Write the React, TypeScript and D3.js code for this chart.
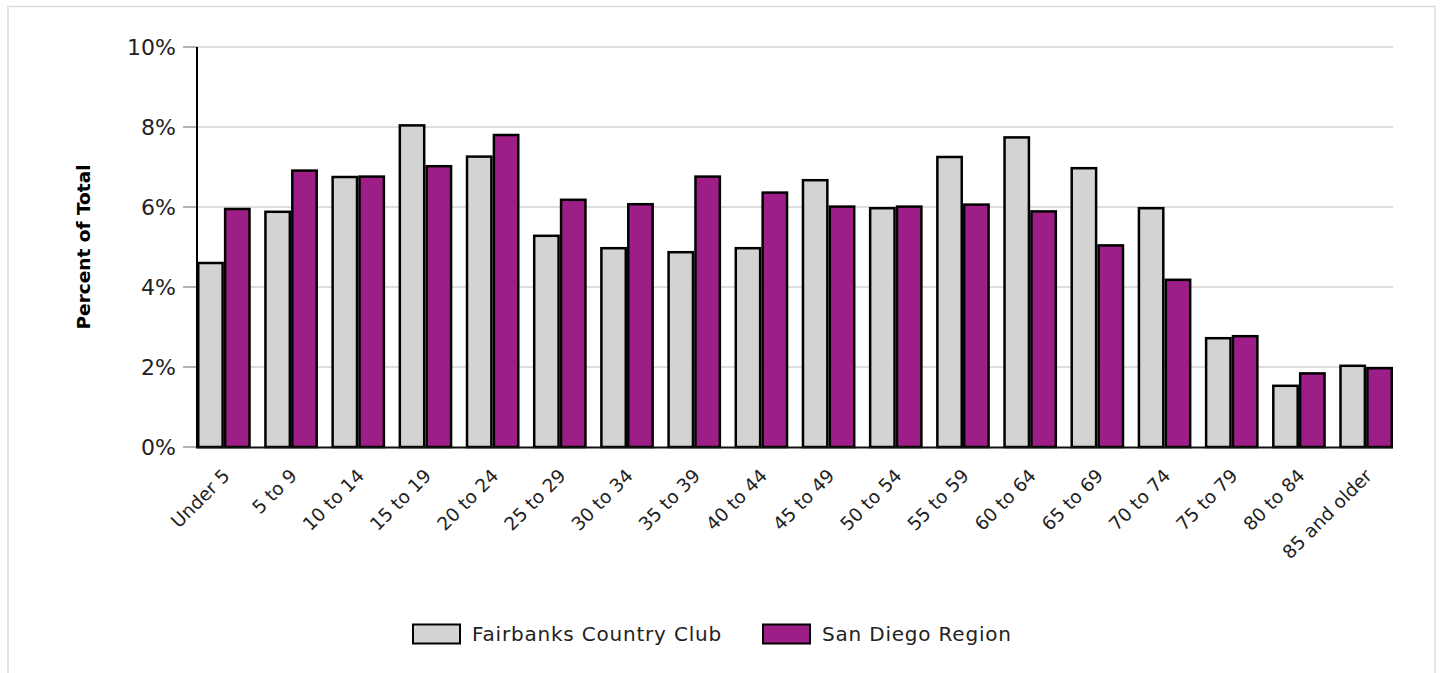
import React from "react";
import * as d3 from "d3";

const categories = [
  "Under 5", "5 to 9", "10 to 14", "15 to 19", "20 to 24", "25 to 29", "30 to 34",
  "35 to 39", "40 to 44", "45 to 49", "50 to 54", "55 to 59", "60 to 64", "65 to 69",
  "70 to 74", "75 to 79", "80 to 84", "85 and older",
];
const fairbanks = [4.6, 5.88, 6.75, 8.04, 7.26, 5.28, 4.97, 4.87, 4.97, 6.67, 5.97, 7.25, 7.74, 6.97, 5.97, 2.72, 1.53, 2.03];
const sanDiego = [5.95, 6.91, 6.76, 7.02, 7.8, 6.18, 6.07, 6.76, 6.36, 6.01, 6.01, 6.06, 5.89, 5.04, 4.18, 2.77, 1.84, 1.97];
const seriesNames = ["Fairbanks Country Club", "San Diego Region"];
const seriesColors = ["#d3d3d3", "#9e1e87"];
const yTicks = [0, 2, 4, 6, 8, 10];

const W = 1441;
const H = 673;
const FONT = "'DejaVu Sans', 'Open Sans', sans-serif";

export default function App() {
  const x0 = d3.scaleBand<string>().domain(categories).range([197, 1393]).paddingInner(0.2).paddingOuter(0);
  const x1 = d3.scaleBand<string>().domain(seriesNames).range([0, x0.bandwidth()]).padding(0);
  const y = d3.scaleLinear().domain([0, 10]).range([447, 47]);
  const series = [fairbanks, sanDiego];

  return (
    <svg width={W} height={H} style={{ position: "absolute", left: 0, top: 0, background: "#fff" }}>
      <rect x={8} y={6.5} width={1427} height={700} fill="#fff" stroke="#dcdcdc" strokeWidth={1.5} />
      {yTicks.map((t) => (
        <g key={t}>
          <line x1={183} x2={197} y1={y(t)} y2={y(t)} stroke="#999" strokeWidth={1.5} />
          {t > 0 && <line x1={197} x2={1393} y1={y(t)} y2={y(t)} stroke="#dedede" strokeWidth={2} />}
          <text x={176} y={y(t)} dy="0.36em" textAnchor="end" fontFamily={FONT} fontSize={22} fill="#222">
            {t}%
          </text>
        </g>
      ))}
      {categories.map((c, i) => (
        <g key={c} transform={`translate(${x0(c)},0)`}>
          {seriesNames.map((s, j) => (
            <rect
              key={s}
              x={(x1(s) as number) + 1.25}
              y={y(series[j][i])}
              width={x1.bandwidth() - 2.5}
              height={y(0) - y(series[j][i])}
              fill={seriesColors[j]}
              stroke="#000"
              strokeWidth={2.5}
            />
          ))}
        </g>
      ))}
      <line x1={197} x2={197} y1={47} y2={448} stroke="#000" strokeWidth={2} />
      <line x1={196} x2={1393} y1={447.5} y2={447.5} stroke="#111" strokeWidth={2} />
      {categories.map((c) => {
        const cx = (x0(c) as number) + x0.bandwidth() / 2;
        return (
          <text
            key={c}
            transform={`translate(${cx + 7},${477}) rotate(-45)`}
            textAnchor="end"
            fontFamily={FONT}
            fontSize={18.5}
            fill="#222"
          >
            {c}
          </text>
        );
      })}
      <text
        transform={`translate(90,247) rotate(-90)`}
        textAnchor="middle"
        fontFamily={FONT}
        fontWeight={700}
        fontSize={18.5}
        fill="#000"
      >
        Percent of Total
      </text>
      {seriesNames.map((s, j) => {
        const lx = j === 0 ? 413 : 763;
        return (
          <g key={s}>
            <rect x={lx} y={624.5} width={47} height={19} fill={seriesColors[j]} stroke="#000" strokeWidth={2} />
            <text x={lx + 59} y={641} fontFamily={FONT} fontSize={20} letterSpacing={0.8} fill="#222">
              {s}
            </text>
          </g>
        );
      })}
    </svg>
  );
}
